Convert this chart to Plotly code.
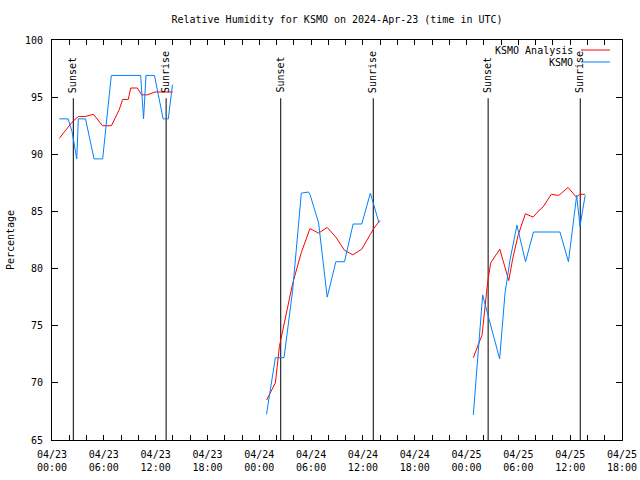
import plotly.graph_objects as go

# ---------------- data ----------------
# KSMO Analysis (red)
analysis_t1 = ["2024-04-23 00:51", "2024-04-23 01:53", "2024-04-23 02:19", "2024-04-23 03:03",
               "2024-04-23 03:49", "2024-04-23 04:48", "2024-04-23 05:51", "2024-04-23 06:53",
               "2024-04-23 07:47", "2024-04-23 08:11", "2024-04-23 08:50", "2024-04-23 09:07",
               "2024-04-23 09:53", "2024-04-23 10:23", "2024-04-23 11:02", "2024-04-23 11:56",
               "2024-04-23 13:59"]
analysis_v1 = [91.4, 92.4, 92.8, 93.3, 93.3, 93.5, 92.5, 92.5, 93.9, 94.8, 94.8, 95.8,
               95.8, 95.2, 95.2, 95.45, 95.45]

analysis_t2 = ["2024-04-24 00:51", "2024-04-24 01:17", "2024-04-24 01:52", "2024-04-24 02:20",
               "2024-04-24 02:52", "2024-04-24 03:52", "2024-04-24 04:52", "2024-04-24 05:52",
               "2024-04-24 06:52", "2024-04-24 07:52", "2024-04-24 08:52", "2024-04-24 09:52",
               "2024-04-24 10:50", "2024-04-24 11:52", "2024-04-24 12:52", "2024-04-24 13:15",
               "2024-04-24 13:58"]
analysis_v2 = [68.5, 69.2, 70.0, 73.2, 75.1, 78.7, 81.4, 83.5, 83.1, 83.6, 82.75, 81.6,
               81.2, 81.7, 83.0, 83.5, 84.2]

analysis_t3 = ["2024-04-25 00:47", "2024-04-25 01:08", "2024-04-25 01:32", "2024-04-25 01:48",
               "2024-04-25 02:18", "2024-04-25 02:29", "2024-04-25 02:48", "2024-04-25 03:16",
               "2024-04-25 03:51", "2024-04-25 04:25", "2024-04-25 04:53", "2024-04-25 05:23",
               "2024-04-25 05:58", "2024-04-25 06:49", "2024-04-25 07:42", "2024-04-25 08:17",
               "2024-04-25 08:52", "2024-04-25 09:49", "2024-04-25 10:41", "2024-04-25 11:45",
               "2024-04-25 12:43", "2024-04-25 13:06", "2024-04-25 13:43"]
analysis_v3 = [72.2, 72.9, 73.6, 74.2, 77.8, 79.0, 80.5, 81.0, 81.7, 80.2, 78.95, 81.0,
               82.9, 84.8, 84.5, 85.0, 85.4, 86.5, 86.4, 87.1, 86.25, 86.5, 86.5]

# KSMO observations (blue)
obs_t1 = ["2024-04-23 00:52", "2024-04-23 01:52", "2024-04-23 02:19", "2024-04-23 02:52",
          "2024-04-23 03:03", "2024-04-23 03:53", "2024-04-23 04:52", "2024-04-23 05:52",
          "2024-04-23 06:52", "2024-04-23 10:16", "2024-04-23 10:36", "2024-04-23 10:53",
          "2024-04-23 11:52", "2024-04-23 12:52", "2024-04-23 13:28", "2024-04-23 13:57"]
obs_v1 = [93.1, 93.1, 92.0, 89.6, 93.1, 93.1, 89.6, 89.6, 96.9, 96.9, 93.1, 96.9,
          96.9, 93.1, 93.1, 96.1]

obs_t2 = ["2024-04-24 00:50", "2024-04-24 01:52", "2024-04-24 02:52", "2024-04-24 03:52",
          "2024-04-24 04:52", "2024-04-24 05:42", "2024-04-24 05:52", "2024-04-24 06:52",
          "2024-04-24 07:52", "2024-04-24 08:52", "2024-04-24 09:52", "2024-04-24 10:52",
          "2024-04-24 11:52", "2024-04-24 12:52", "2024-04-24 13:52"]
obs_v2 = [67.25, 72.2, 72.2, 78.1, 86.6, 86.7, 86.5, 84.0, 77.5, 80.6, 80.6, 83.9,
          83.9, 86.6, 84.0]

obs_t3 = ["2024-04-25 00:47", "2024-04-25 01:52", "2024-04-25 02:04", "2024-04-25 03:50",
          "2024-04-25 04:27", "2024-04-25 05:02", "2024-04-25 05:50", "2024-04-25 06:50",
          "2024-04-25 07:45", "2024-04-25 10:49", "2024-04-25 11:48", "2024-04-25 12:45",
          "2024-04-25 13:08", "2024-04-25 13:44"]
obs_v3 = [67.2, 77.7, 77.1, 72.1, 77.8, 80.75, 83.8, 80.6, 83.2, 83.2, 80.6, 86.4,
          83.7, 86.4]

sunset_times = ["2024-04-23 02:28", "2024-04-24 02:29", "2024-04-25 02:30"]
sunrise_times = ["2024-04-23 13:13", "2024-04-24 13:12", "2024-04-25 13:10"]

tick_times = ["2024-04-23 00:00", "2024-04-23 06:00", "2024-04-23 12:00", "2024-04-23 18:00",
              "2024-04-24 00:00", "2024-04-24 06:00", "2024-04-24 12:00", "2024-04-24 18:00",
              "2024-04-25 00:00", "2024-04-25 06:00", "2024-04-25 12:00", "2024-04-25 18:00"]
tick_labels = ["04/23<br>00:00", "04/23<br>06:00", "04/23<br>12:00", "04/23<br>18:00",
               "04/24<br>00:00", "04/24<br>06:00", "04/24<br>12:00", "04/24<br>18:00",
               "04/25<br>00:00", "04/25<br>06:00", "04/25<br>12:00", "04/25<br>18:00"]

TITLE = "Relative Humidity for KSMO on 2024-Apr-23 (time in UTC)"
Y_MIN, Y_MAX = 65, 100
LINE_TOP = 94.9
LABEL_Y = 95.2

FONT = "DejaVu Sans Mono"
RED = "#ff0000"
BLUE = "#0080ff"


def join(*pairs):
    xs, ys = [], []
    for i, (t, v) in enumerate(pairs):
        if i:
            xs.append(None)
            ys.append(None)
        xs += t
        ys += v
    return xs, ys


ax, ay = join((analysis_t1, analysis_v1), (analysis_t2, analysis_v2), (analysis_t3, analysis_v3))
ox, oy = join((obs_t1, obs_v1), (obs_t2, obs_v2), (obs_t3, obs_v3))

fig = go.Figure()

# vertical sunset / sunrise lines
vx, vy = [], []
for t in sunset_times + sunrise_times:
    vx += [t, t, None]
    vy += [Y_MIN, LINE_TOP, None]
fig.add_trace(go.Scatter(x=vx, y=vy, mode="lines", line=dict(color="black", width=1),
                         hoverinfo="skip", showlegend=False))

fig.add_trace(go.Scatter(x=ax, y=ay, mode="lines", name="KSMO Analysis",
                         line=dict(color=RED, width=1), connectgaps=False, showlegend=False))
fig.add_trace(go.Scatter(x=ox, y=oy, mode="lines", name="KSMO",
                         line=dict(color=BLUE, width=1), connectgaps=False, showlegend=False))

annotations = []
for t in sunset_times:
    annotations.append(dict(x=t, y=LABEL_Y, xref="x", yref="y", text="Sunset", textangle=-90,
                            showarrow=False, xanchor="center", yanchor="bottom",
                            font=dict(family=FONT, size=10, color="black")))
for t in sunrise_times:
    annotations.append(dict(x=t, y=LABEL_Y, xref="x", yref="y", text="Sunrise", textangle=-90,
                            showarrow=False, xanchor="center", yanchor="bottom",
                            font=dict(family=FONT, size=10, color="black")))

# legend (gnuplot style: text right-aligned, sample line to the right)
legend_items = [("KSMO Analysis", RED, 0.975), ("KSMO", BLUE, 0.945)]
shapes = []
for text, color, yp in legend_items:
    annotations.append(dict(x=0.9175, y=yp, xref="paper", yref="paper", text=text,
                            showarrow=False, xanchor="right", yanchor="middle",
                            font=dict(family=FONT, size=10, color="black")))
    shapes.append(dict(type="line", xref="paper", yref="paper", x0=0.928, x1=0.979,
                       y0=yp, y1=yp, line=dict(color=color, width=1)))

fig.update_layout(
    width=640, height=480,
    margin=dict(l=52, r=18, t=40, b=40, autoexpand=False),
    paper_bgcolor="white", plot_bgcolor="white",
    font=dict(family=FONT, size=10, color="black"),
    title=dict(text=TITLE, x=0.5, xref="paper", y=1 - 19 / 480, yref="container",
               xanchor="center", yanchor="middle", font=dict(family=FONT, size=10)),
    annotations=annotations,
    shapes=shapes,
    showlegend=False,
)

fig.update_xaxes(
    type="date",
    range=["2024-04-23 00:00", "2024-04-25 18:00"],
    tickmode="array", tickvals=tick_times, ticktext=tick_labels,
    ticks="inside", ticklen=5, tickcolor="black", tickwidth=1,
    minor=dict(dtick=7200000, tick0="2024-04-23 00:00", ticks="inside", ticklen=5,
               tickcolor="black", tickwidth=1, showgrid=False),
    showline=True, linecolor="black", linewidth=1, mirror="ticks",
    showgrid=False, zeroline=False, automargin=False,
    ticklabelstandoff=5,
    tickfont=dict(family=FONT, size=10, color="black"),
)
fig.update_yaxes(
    range=[Y_MIN, Y_MAX], dtick=5, tick0=65,
    ticks="inside", ticklen=6, tickcolor="black", tickwidth=1,
    showline=True, linecolor="black", linewidth=1, mirror="ticks",
    showgrid=False, zeroline=False, automargin=False,
    ticklabelstandoff=6,
    tickfont=dict(family=FONT, size=10, color="black"),
    title=dict(text="Percentage", standoff=8, font=dict(family=FONT, size=10, color="black")),
)

fig.write_html(
    "out.html",
    config={"displayModeBar": False},
    post_script="document.body.style.margin='0';document.body.style.overflow='hidden';",
)
